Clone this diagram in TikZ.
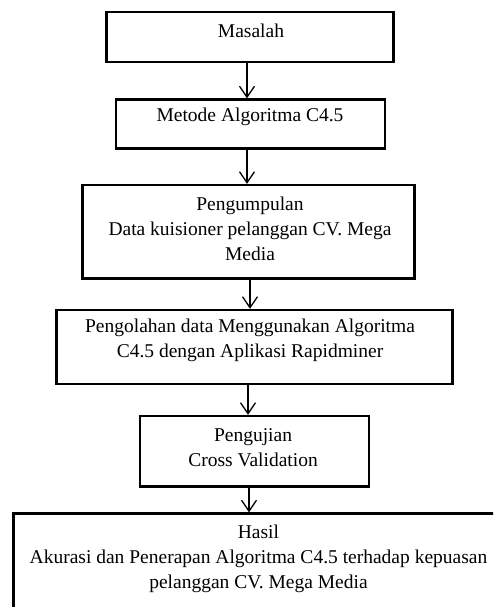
\documentclass[tikz,border=0pt]{standalone}
\usepackage{fontspec}
\setmainfont{Liberation Serif}
\usetikzlibrary{arrows.meta}
\begin{document}
\begin{tikzpicture}[x=1pt,y=-1pt,
  flowbox/.style={draw=black,line width=2.3pt,rectangle,inner sep=0pt,fill=none},
  label/.style={align=center,inner sep=0pt,font=\fontsize{19.5pt}{25pt}\selectfont},
  arr/.style={line width=1.3pt,-{Straight Barb[length=11pt,width=15pt,line width=1.3pt]}}]
\useasboundingbox (0,0) rectangle (493,607);
\clip (0,0) rectangle (493,607);
\fill[white] (0,0) rectangle (493,607);
% boxes
\node[flowbox,minimum width=287pt,minimum height=50pt] (b1) at (250,37) {};
\node[flowbox,minimum width=269pt,minimum height=49pt] (b2) at (250.5,124) {};
\node[flowbox,minimum width=332pt,minimum height=93.5pt] (b3) at (248.5,231.75) {};
\node[flowbox,minimum width=396pt,minimum height=74pt] (b4) at (254.5,347) {};
\node[flowbox,minimum width=229pt,minimum height=70.5pt] (b5) at (254.5,451.25) {};
\node[flowbox,minimum width=500pt,minimum height=110pt] (b6) at (263.5,568.5) {};
% texts
\node[label] (t1) at (251,31) {Masalah};
\node[label] (t2) at (250,117) {Metode Algoritma C4.5};
\node[label] (t3) at (250,229) {Pengumpulan\\Data kuisioner pelanggan CV. Mega\\Media};
\node[label] (t4) at (250,340) {Pengolahan data Menggunakan Algoritma\\C4.5 dengan Aplikasi Rapidminer\hspace{14pt}};
\node[label] (t5) at (253,448) {Pengujian\\Cross Validation};
\node[label] (t6) at (258.5,559) {Hasil\\Akurasi dan Penerapan Algoritma C4.5 terhadap kepuasan\\pelanggan CV. Mega Media};
% connectors
\draw[arr] (b1.south -| 247,0) -- (b2.north -| 247,0);
\draw[arr] (b2.south -| 247,0) -- (b3.north -| 247,0);
\draw[arr] (b3.south -| 250,0) -- (b4.north -| 250,0);
\draw[arr] (b4.south -| 248,0) -- (b5.north -| 248,0);
\draw[arr] (b5.south -| 249,0) -- (b6.north -| 249,0);
\end{tikzpicture}
\end{document}
